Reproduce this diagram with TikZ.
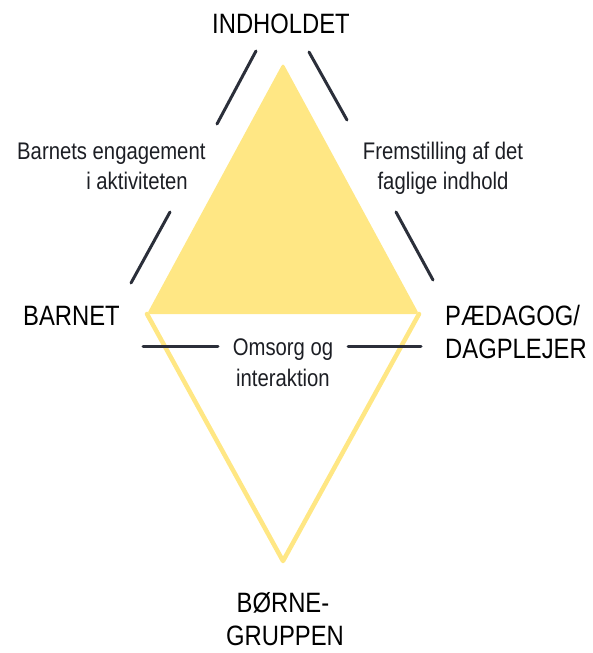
\documentclass[tikz,border=0pt]{standalone}
\usepackage{fontspec}
\newfontfamily\titlefont[FakeStretch=0.85]{Liberation Sans}
\newfontfamily\labelfont[FakeStretch=0.845]{Liberation Sans}
\definecolor{triyellow}{HTML}{FFE784}
\definecolor{darkline}{HTML}{2B2F3A}
\definecolor{txt}{HTML}{1C1E24}
\begin{document}
\begin{tikzpicture}[x=1pt,y=-1pt,
  title/.style={inner sep=0pt, font=\titlefont\fontsize{28}{33}\selectfont, text=black},
  lbl/.style={inner sep=0pt, font=\labelfont\fontsize{24}{30}\selectfont, text=txt},
  seg/.style={draw=darkline, line width=3pt, line cap=round}]
\useasboundingbox (0,0) rectangle (593,653);
% triangles
\coordinate (apex) at (283,63);
\coordinate (lc) at (147,314);
\coordinate (rc) at (419,314);
\coordinate (bot) at (283,561);
\fill[triyellow, rounded corners=3pt] (apex) -- (rc) -- (lc) -- cycle;
\draw[triyellow, line width=4.5pt, line join=round, line cap=round] (lc) -- (bot) -- (rc);
% segment end points
\coordinate (l1a) at (256,51); \coordinate (l1b) at (217,124);
\coordinate (l2a) at (170,212); \coordinate (l2b) at (131,283);
\coordinate (r1a) at (309,52); \coordinate (r1b) at (347,120);
\coordinate (r2a) at (396,212); \coordinate (r2b) at (433,280);
\coordinate (h1a) at (143,346); \coordinate (h1b) at (218,346);
\coordinate (h2a) at (348,346); \coordinate (h2b) at (421,346);
\draw[seg] (l1a) -- (l1b);
\draw[seg] (l2a) -- (l2b);
\draw[seg] (r1a) -- (r1b);
\draw[seg] (r2a) -- (r2b);
\draw[seg] (h1a) -- (h1b);
\draw[seg] (h2a) -- (h2b);
% titles
\node[title, anchor=base] (ind) at (281,33) {INDHOLDET};
\node[title, anchor=base west] (bar) at (23,325) {BARNET};
\node[title, anchor=base west] (paed1) at (445,325) {PÆDAGOG/};
\node[title, anchor=base west] (paed2) at (445,358) {DAGPLEJER};
\node[title, anchor=base] (born1) at (283,612) {BØRNE-};
\node[title, anchor=base] (born2) at (285,645) {GRUPPEN};
% labels
\node[lbl, anchor=base west] (be1) at (17,159) {Barnets engagement};
\node[lbl, anchor=base east] (be2) at (188,189) {i aktiviteten};
\node[lbl, anchor=base] (fr1) at (443,159) {Fremstilling af det};
\node[lbl, anchor=base] (fr2) at (443,189) {faglige indhold};
\node[lbl, anchor=base] (om1) at (283,355) {Omsorg og};
\node[lbl, anchor=base] (om2) at (283,386) {interaktion};
\end{tikzpicture}
\end{document}
